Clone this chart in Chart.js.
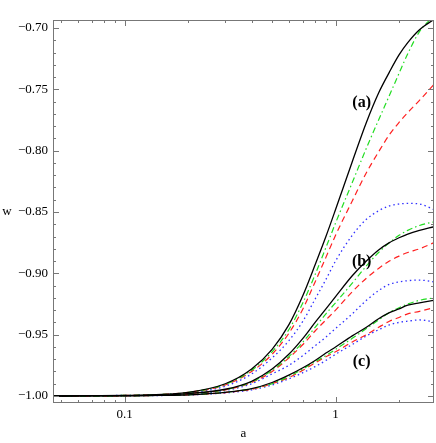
<!DOCTYPE html>
<html>
<head>
<meta charset="utf-8">
<script src="https://cdn.jsdelivr.net/npm/chart.js@4"></script>
<style>
  body { margin: 0; background: #fff; }
  canvas { display: block; }
</style>
</head>
<body>
<canvas id="grafico" width="436" height="443"></canvas>
<script>
// valores de a (eixo x, escala log)
const aVals = [0.0457, 0.1, 0.15, 0.2, 0.3, 0.4, 0.5, 0.6, 0.7, 0.8, 0.9, 1.0, 1.2, 1.4, 1.6, 1.8, 2.0, 2.2, 2.5, 2.93];

// grupo (a)
const blackA = [-1.000, -0.9995, -0.9987, -0.997, -0.990, -0.978, -0.962, -0.942, -0.918, -0.893, -0.870, -0.848, -0.809, -0.777, -0.753, -0.736, -0.722, -0.712, -0.7015, -0.693];
const greenA = [-1.000, -0.9995, -0.9988, -0.997, -0.9905, -0.979, -0.964, -0.946, -0.924, -0.901, -0.879, -0.859, -0.826, -0.798, -0.775, -0.755, -0.737, -0.721, -0.703, -0.690];
const redA   = [-1.000, -0.9995, -0.9988, -0.997, -0.991, -0.980, -0.966, -0.949, -0.929, -0.907, -0.887, -0.869, -0.841, -0.818, -0.801, -0.787, -0.777, -0.769, -0.759, -0.746];
const blueA  = [-1.000, -0.9995, -0.999, -0.9975, -0.992, -0.982, -0.969, -0.955, -0.939, -0.921, -0.905, -0.890, -0.869, -0.856, -0.849, -0.845, -0.8435, -0.843, -0.8435, -0.848];

// grupo (b)
const blackB = [-1.000, -0.9997, -0.9992, -0.998, -0.9945, -0.988, -0.978, -0.966, -0.953, -0.940, -0.929, -0.919, -0.902, -0.890, -0.881, -0.875, -0.871, -0.868, -0.865, -0.862];
const greenB = [-1.000, -0.9997, -0.9992, -0.998, -0.9948, -0.9885, -0.979, -0.968, -0.956, -0.944, -0.933, -0.924, -0.908, -0.894, -0.883, -0.875, -0.869, -0.865, -0.861, -0.858];
const redB   = [-1.000, -0.9997, -0.9992, -0.998, -0.995, -0.989, -0.980, -0.969, -0.958, -0.947, -0.938, -0.930, -0.915, -0.904, -0.896, -0.890, -0.886, -0.883, -0.880, -0.875];
const blueB  = [-1.000, -0.9997, -0.9993, -0.9985, -0.9955, -0.990, -0.982, -0.975, -0.967, -0.959, -0.952, -0.945, -0.933, -0.922, -0.914, -0.909, -0.907, -0.906, -0.9055, -0.907];

// grupo (c)
const blackC = [-1.000, -0.9998, -0.9995, -0.999, -0.997, -0.994, -0.989, -0.983, -0.977, -0.971, -0.965, -0.960, -0.951, -0.944, -0.937, -0.932, -0.929, -0.926, -0.924, -0.922];
const greenC = [-1.000, -0.9998, -0.9995, -0.999, -0.997, -0.994, -0.990, -0.984, -0.978, -0.972, -0.967, -0.962, -0.953, -0.945, -0.938, -0.932, -0.928, -0.925, -0.922, -0.920];
const redC   = [-1.000, -0.9998, -0.9995, -0.999, -0.9972, -0.9945, -0.990, -0.985, -0.979, -0.973, -0.968, -0.964, -0.956, -0.950, -0.944, -0.939, -0.936, -0.933, -0.931, -0.928];
const blueC  = [-1.000, -0.9998, -0.9996, -0.9992, -0.9975, -0.995, -0.991, -0.986, -0.981, -0.976, -0.971, -0.966, -0.958, -0.951, -0.946, -0.942, -0.940, -0.939, -0.938, -0.9395];

// marcas dos eixos
const xMajor = [0.1, 1];
const xMinor = [0.05, 0.06, 0.07, 0.08, 0.09, 0.2, 0.3, 0.4, 0.5, 0.6, 0.7, 0.8, 0.9, 2, 3];
const yMajor = [-1.00, -0.95, -0.90, -0.85, -0.80, -0.75, -0.70];

// rótulos (a), (b), (c)
const rotulos = [
  { texto: "(a)", a: 1.33, w: -0.7612 },
  { texto: "(b)", a: 1.33, w: -0.8909 },
  { texto: "(c)", a: 1.33, w: -0.9724 }
];

function serie(ys, cor, dash, largura, ordem) {
  return {
    data: aVals.map((a, i) => ({ x: a, y: ys[i] })),
    borderColor: cor,
    borderDash: dash,
    borderWidth: largura,
    pointRadius: 0,
    cubicInterpolationMode: 'monotone',
    fill: false,
    order: ordem
  };
}

const preto = '#000000', verde = '#22dd22', vermelho = '#ff2020', azul = '#3030ff';
const tracoPonto = [6, 3, 1.5, 3], tracejado = [6, 4], pontilhado = [1.5, 3];

// moldura com marcas para dentro, títulos e rótulos
const moldura = {
  id: 'moldura',
  afterDraw(chart) {
    const { ctx, chartArea: ca, scales: { x, y } } = chart;
    ctx.save();
    ctx.strokeStyle = '#777';
    ctx.lineWidth = 1;
    ctx.strokeRect(ca.left + 0.5, ca.top + 0.5, ca.right - ca.left - 1, ca.bottom - ca.top - 1);
    ctx.beginPath();
    const marcaX = (v, len) => {
      const px = Math.round(x.getPixelForValue(v)) + 0.5;
      if (px < ca.left || px > ca.right) return;
      ctx.moveTo(px, ca.bottom); ctx.lineTo(px, ca.bottom - len);
      ctx.moveTo(px, ca.top); ctx.lineTo(px, ca.top + len);
    };
    xMajor.forEach(v => marcaX(v, 6));
    xMinor.forEach(v => marcaX(v, 3));
    for (let k = 0; k <= 30; k++) {
      const v = -1.0 + k * 0.01;
      const py = Math.round(y.getPixelForValue(v)) + 0.5;
      const len = (k % 5 === 0) ? 6 : 3;
      ctx.moveTo(ca.left, py); ctx.lineTo(ca.left + len, py);
      ctx.moveTo(ca.right, py); ctx.lineTo(ca.right - len, py);
    }
    ctx.stroke();

    ctx.fillStyle = '#000';
    ctx.textAlign = 'center';
    ctx.textBaseline = 'middle';
    ctx.font = '13px "Liberation Serif"';
    ctx.fillText('a', (ca.left + ca.right) / 2, 434);
    ctx.fillText('w', 7, (ca.top + ca.bottom) / 2);

    ctx.font = 'bold 16px "Liberation Serif"';
    rotulos.forEach(r => {
      ctx.fillText(r.texto, x.getPixelForValue(r.a), y.getPixelForValue(r.w));
    });
    ctx.restore();
  }
};

const ctx = document.getElementById("grafico").getContext("2d");
new Chart(ctx, {
  type: 'line',
  data: {
    datasets: [
      serie(blackA, preto, [], 1.3, 0),
      serie(blackB, preto, [], 1.3, 0),
      serie(blackC, preto, [], 1.3, 0),
      serie(greenA, verde, tracoPonto, 1.2, 1),
      serie(greenB, verde, tracoPonto, 1.2, 1),
      serie(greenC, verde, tracoPonto, 1.2, 1),
      serie(redA, vermelho, tracejado, 1.2, 2),
      serie(redB, vermelho, tracejado, 1.2, 2),
      serie(redC, vermelho, tracejado, 1.2, 2),
      serie(blueA, azul, pontilhado, 1.3, 3),
      serie(blueB, azul, pontilhado, 1.3, 3),
      serie(blueC, azul, pontilhado, 1.3, 3)
    ]
  },
  options: {
    responsive: false,
    animation: false,
    layout: { padding: { left: 0, right: 2, top: 20, bottom: 0 } },
    plugins: { legend: { display: false }, tooltip: { enabled: false } },
    scales: {
      x: {
        type: 'logarithmic',
        min: 0.0457,
        max: 2.93,
        grid: { display: false, drawTicks: false },
        border: { display: false },
        afterBuildTicks: s => { s.ticks = xMajor.map(v => ({ value: v })); },
        afterFit: s => { s.height = 40; },
        ticks: {
          padding: 4,
          color: '#000',
          font: { family: '"Liberation Serif"', size: 13 },
          callback: v => String(v),
          maxRotation: 0
        }
      },
      y: {
        type: 'linear',
        min: -1.0057,
        max: -0.6935,
        grid: { display: false, drawTicks: false },
        border: { display: false },
        afterBuildTicks: s => { s.ticks = yMajor.map(v => ({ value: v })); },
        afterFit: s => { s.width = 53; },
        ticks: {
          padding: 5,
          color: '#000',
          font: { family: '"Liberation Serif"', size: 13 },
          callback: v => '\u2212' + Math.abs(v).toFixed(2)
        }
      }
    }
  },
  plugins: [moldura]
});
</script>
</body>
</html>
